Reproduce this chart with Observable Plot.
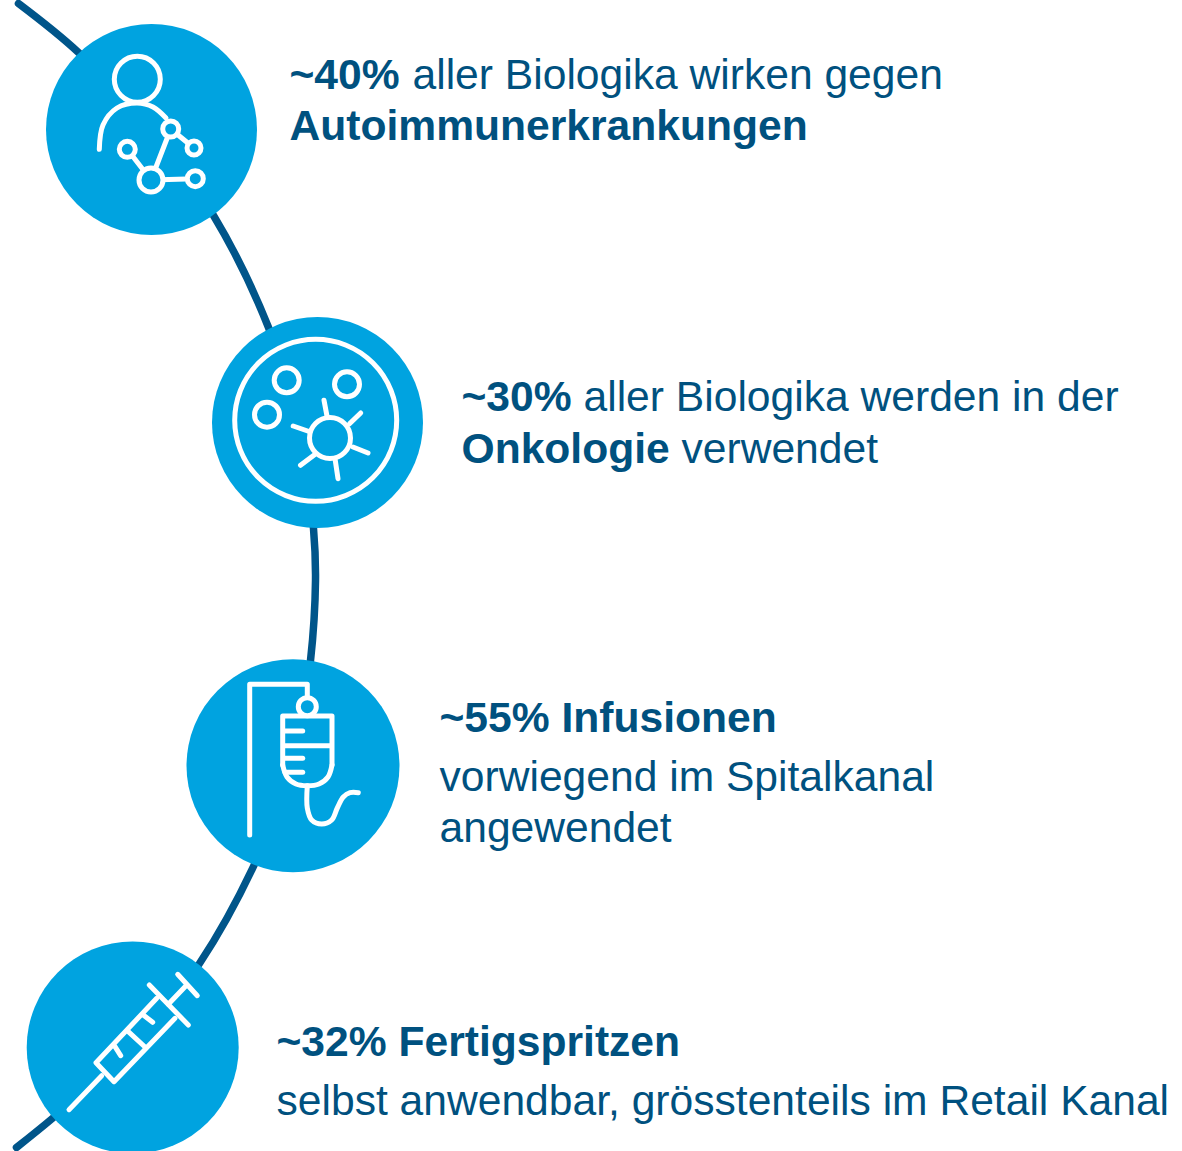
<!DOCTYPE html>
<html lang="de"><head><meta charset="utf-8">
<script src="https://cdn.jsdelivr.net/npm/d3@7"></script>
<script src="https://cdn.jsdelivr.net/npm/@observablehq/plot@0.6"></script>
<style>html,body{margin:0;padding:0;background:#fff;overflow:hidden}svg{display:block}</style>
</head><body><div id="chart"></div>
<script>
const BLUE = "#00a3e0", DARK = "#00558a", INK = "#00517f";

// curved timeline behind the circles
const spine = [[18,3],[78,52],[151,130],[213,215],[268,327],[300,430],[313,528],[315,580],[310,660],[293,765],[252,868],[199,963],[133,1047],[53,1117],[16,1147]];

// big discs
const discs = [[151,129,105.5],[317,422,105.5],[292.5,765.2,106.5],[132.2,1047,106]];

// petri dish outline (unfilled, its contents sit inside it)
const dish = [[315.2,419.8,81]];

// straight strokes of the icons
const straight = [
  // network
  [[170.2,128.5],[193.5,147.5]],[[170.2,128.5],[150.5,179.5]],[[126.8,148.8],[150.5,179.5]],[[150.5,179.5],[194.8,178.2]],
  // virus spikes
  [[323.5,399.8],[327,418.2]],[[360.2,412.5],[349,423.2]],[[367.5,452.5],[352.5,446.5]],
  [[337.5,478.2],[334.5,458.2]],[[300,464.8],[314,454.2]],[[292.7,425.5],[310,431.5]],
  // IV stand and bag
  [[249.2,834.5],[249.2,683.8],[306.8,683.8],[306.8,697.5]],
  [[282.2,764.5],[282.2,715.5],[331.5,715.5],[331.5,764.5]],
  [[284.5,730.5],[302.2,730.5]],[[284.5,745.2],[329.5,745.2]],[[284.5,757.8],[302.2,757.8]],[[284.5,771.8],[302.2,771.8]],
  // syringe
  [[68.5,1109.2],[101.2,1075.2]],
  [[148.8,984.5],[187.8,1024.5]],
  [[156.2,997.8],[95.5,1062.2],[113.5,1081.2],[174.5,1017.8]],
  [[167.8,1003.8],[185.5,985.2]],[[177.2,973.8],[196.8,995.2]],
  [[127.8,1031.2],[144.5,1046.5]],[[114.5,1046.2],[120.2,1055.2]],[[142.8,1014.5],[152.2,1021.8]]
];

// curved strokes of the icons
const curved = [
  [[98.8,148.8],[102.5,124.5],[116.5,107.5],[136.5,102.5],[152.5,106.5],[165.5,117.5]],
  [[282.2,764.5],[286.5,776.5],[295.5,783.5],[306.5,785.2],[318.5,783.5],[327.5,776.5],[331.5,764.5]],
  [[306.8,785.2],[306.8,807.5],[311.2,819.5],[321.2,823.5],[331.2,819.5],[336.8,807.5],[342.8,796.5],[349.5,792.2],[357.8,792.2]]
];

// hollow rings of the icons
const rings = [
  [136.8,78.8,23],[170.2,128.5,8],[193.5,147.5,7],[126.8,148.8,8],[150.5,179.5,12],[194.8,178.2,8],
  [286.2,379.8,12.5],[346.5,383.8,12.5],[266.5,414.2,12.5],[329.5,437.5,20.5],
  [306.8,706.2,9]
];

// captions
const labels = [
  ["~40%",289,75,true],["aller Biologika wirken gegen",412,75,false],
  ["Autoimmunerkrankungen",289,126,true],
  ["~30%",461,397,true],["aller Biologika werden in der",583,397,false],
  ["Onkologie",461,449,true],["verwendet",681,449,false],
  ["~55% Infusionen",439,718,true],
  ["vorwiegend im Spitalkanal",439,777,false],
  ["angewendet",439,828,false],
  ["~32% Fertigspritzen",276,1042,true],
  ["selbst anwendbar, grösstenteils im Retail Kanal",276,1101,false]
];

const tag = (list) => list.flatMap((pts, id) => pts.map(([x,y]) => ({id, x, y})));
const stroke = {stroke:"white", strokeWidth:5, strokeLinecap:"round", strokeLinejoin:"round"};
const textOpts = {text:d=>d[0], x:d=>d[1], y:d=>d[2], textAnchor:"start", lineAnchor:"middle",
  fill:INK, fontSize:42.6, fontFamily:"'Liberation Sans', Arial, sans-serif"};

const chart = Plot.plot({
  width:1182, height:1151, margin:0,
  x:{domain:[0,1182], range:[0,1182], axis:null},
  y:{domain:[0,1151], range:[0,1151], axis:null},
  r:{type:"identity"},
  marks:[
    Plot.line(spine, {x:d=>d[0], y:d=>d[1], stroke:DARK, strokeWidth:7.5, curve:"catmull-rom", strokeLinecap:"round"}),
    Plot.dot(discs, {x:d=>d[0], y:d=>d[1], r:d=>d[2], fill:BLUE, stroke:"none"}),
    Plot.dot(dish, {x:d=>d[0], y:d=>d[1], r:d=>d[2], fill:"none", ...stroke}),
    Plot.line(tag(straight), {x:"x", y:"y", z:"id", curve:"linear", ...stroke}),
    Plot.line(tag(curved), {x:"x", y:"y", z:"id", curve:"catmull-rom", ...stroke}),
    Plot.dot(rings, {x:d=>d[0], y:d=>d[1], r:d=>d[2], fill:BLUE, ...stroke}),
    Plot.text(labels.filter(d=>!d[3]), {...textOpts, fontWeight:400}),
    Plot.text(labels.filter(d=>d[3]), {...textOpts, fontWeight:700})
  ]
});
document.getElementById("chart").append(chart);
</script></body></html>
